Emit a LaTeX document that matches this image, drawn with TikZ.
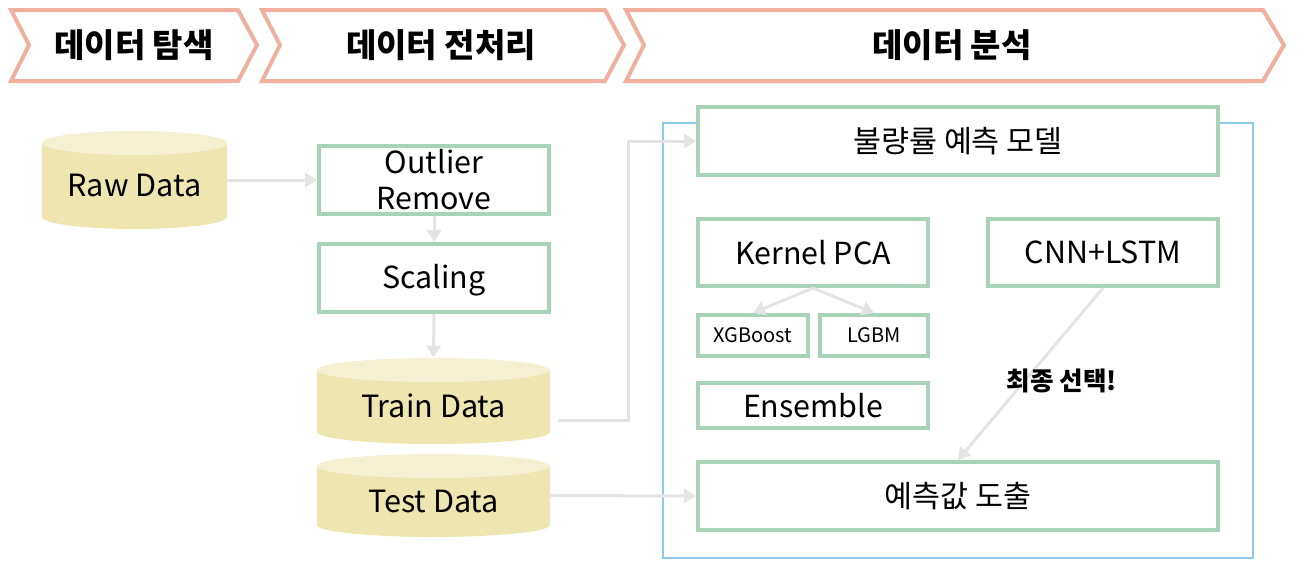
\documentclass[tikz,border=0pt]{standalone}
\usepackage{fontspec}
\setmainfont{Noto Sans CJK KR}
\usetikzlibrary{arrows.meta}
\definecolor{chevpink}{HTML}{EFB0A0}
\definecolor{boxgreen}{HTML}{A8D3B9}
\definecolor{drumbody}{HTML}{EEE6B0}
\definecolor{drumtop}{HTML}{F5F0D2}
\definecolor{framebl}{HTML}{8DCBEE}
\definecolor{flowgray}{HTML}{E4E4E4}
\newcommand{\datadrum}[6]{%
	\fill[drumbody] (#2,#3+12) rectangle (#4,#5-12);
	\fill[drumbody] ({(#2+#4)/2},#5-12) ellipse [x radius={(#4-#2)*0.25pt},y radius=6pt];
	\fill[drumtop] ({(#2+#4)/2},#3+12) ellipse [x radius={(#4-#2)*0.25pt},y radius=6pt];
	\node[drum,minimum width={(#4-#2)*0.5pt},minimum height={(#5-#3)*0.5pt}] (#1) at ({(#2+#4)/2},{(#3+#5)/2}) {\raisebox{-4.5pt}[0.75em][0.25em]{#6}};
}

\begin{document}
\begin{tikzpicture}[x=0.5pt,y=-0.5pt,
		chev/.style={draw=chevpink,line width=2pt,line join=miter},
		stage/.style={font=\fontsize{16.5}{20}\selectfont\bfseries},
		drum/.style={inner sep=0pt,font=\fontsize{15.3}{18}\selectfont},
		procbox/.style={draw=boxgreen,line width=2pt,fill=white,inner sep=0pt,align=center,font=\fontsize{15.2}{18}\selectfont},
		smallbox/.style={procbox,font=\fontsize{10}{12}\selectfont},
		flow/.style={draw=flowgray,line width=1.5pt,-{Triangle[length=6pt,width=7pt]}}]
		\useasboundingbox (0,0) rectangle (1298,573);
		
		\draw[chev] (11,10) -- (238,10) -- (257,45) -- (238,81) -- (11,81) -- (29,45) -- cycle;
		\draw[chev] (262,10) -- (605,10) -- (624,45) -- (605,81) -- (262,81) -- (280,45) -- cycle;
		\draw[chev] (626,10) -- (1263,10) -- (1284,45) -- (1263,81) -- (626,81) -- (644,45) -- cycle;
		\node[stage] (explore) at (134,45) {데이터 탐색};
		\node[stage] (prep) at (441,45) {데이터 전처리};
		\node[stage] (analysis) at (952,45) {데이터 분석};
		
		\datadrum{raw}{42}{131}{227}{229}{Raw Data}
		\datadrum{train}{317}{358}{550}{444}{Train Data}
		\datadrum{test}{317}{454}{550}{537}{Test Data}
		
		\node[procbox,minimum width=115pt,minimum height=34pt] (outlier) at (434,180) {Outlier\\Remove};
		\node[procbox,minimum width=115pt,minimum height=34pt] (scaling) at (434,278) {\raisebox{-1.5pt}[0.75em][0.25em]{Scaling}};
		
		\draw[framebl,line width=1.3pt] (663,123) rectangle (1253,558);
		
		\node[procbox,minimum width=260pt,minimum height=34pt] (model) at (958,141) {불량률 예측 모델};
		\node[procbox,minimum width=115pt,minimum height=33.5pt] (kpca) at (813,252.5) {Kernel PCA};
		\node[procbox,minimum width=115pt,minimum height=33.5pt] (cnn) at (1103,252.5) {CNN+LSTM};
		\node[smallbox,minimum width=55pt,minimum height=20.5pt] (xgb) at (753,335.5) {XGBoost};
		\node[smallbox,minimum width=54pt,minimum height=20.5pt] (lgbm) at (874,335.5) {LGBM};
		\node[procbox,minimum width=115pt,minimum height=22.5pt] (ens) at (813,405.5) {Ensemble};
		\node[procbox,minimum width=260pt,minimum height=34pt] (result) at (958,496) {예측값 도출};
		
		\coordinate (trainout) at (558,420);
		\coordinate (bend) at (628,141);
		\draw[flow] (raw.east) -- (outlier.west);
		\draw[flow] (outlier.south) -- (scaling.north);
		\draw[flow] (scaling.south) -- (train.north);
		\draw[flow] (trainout) -| (bend) -- (model.west);
		\draw[flow] (test.east) -- (result.west);
		\draw[flow] (kpca.south) -- (xgb.north);
		\draw[flow] (kpca.south) -- (lgbm.north);
		\draw[flow] (cnn.south) -- (result.north);
		\node[font=\fontsize{12.8}{15}\selectfont\bfseries] (pick) at (1062,381) {최종 선택!};
	\end{tikzpicture}
\end{document}
